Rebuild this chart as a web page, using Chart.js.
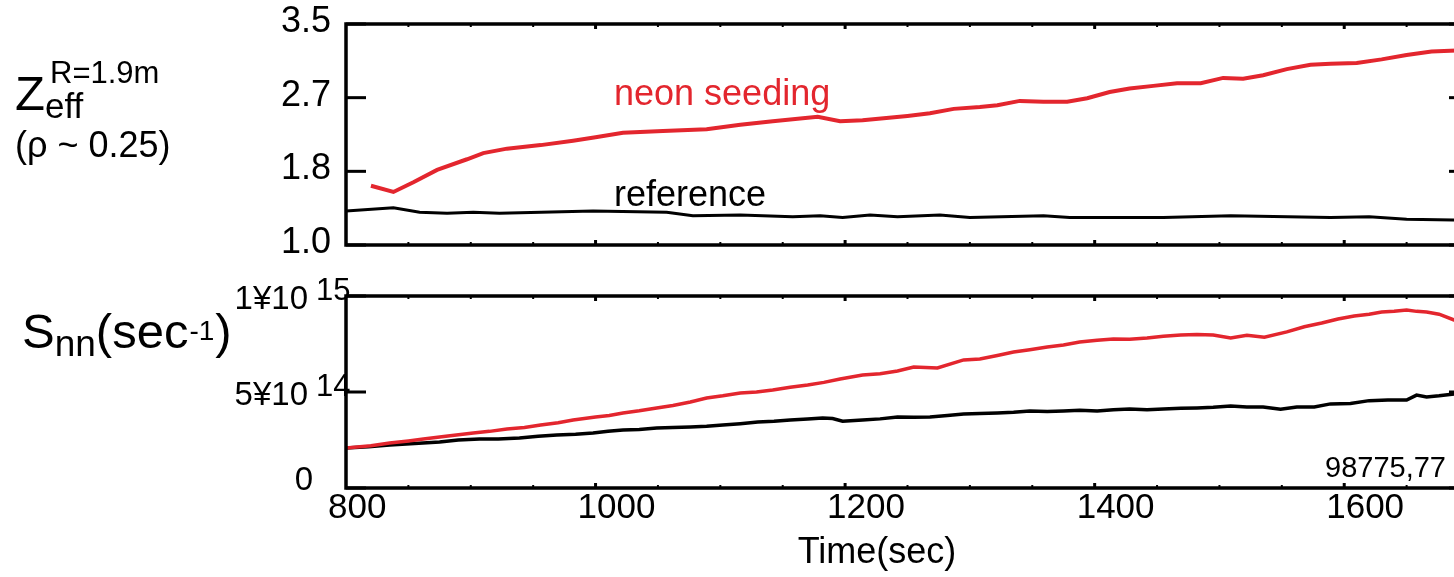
<!DOCTYPE html>
<html>
<head>
<meta charset="utf-8">
<script src="https://cdn.jsdelivr.net/npm/chart.js@4.4.1/dist/chart.umd.min.js"></script>
<style>
html, body { margin: 0; padding: 0; background: #fff; overflow: hidden; width: 1454px; height: 577px; }
#wrap { position: relative; width: 1454px; height: 577px; overflow: hidden; }
canvas { position: absolute; left: 0; }
#zeff { top: 0; }
#snn { top: 270px; }
</style>
</head>
<body>
<div id="wrap">
  <canvas id="zeff" width="1480" height="260"></canvas>
  <canvas id="snn" width="1480" height="307"></canvas>
</div>
<script>
const zeffChart = document.getElementById('zeff');
const snnChart = document.getElementById('snn');

// Zeff (rho ~ 0.25)
const neonZeffTime = [820, 838, 854, 873, 897, 910, 929, 956, 982, 1000, 1022, 1054, 1089, 1116, 1142, 1178, 1196, 1214, 1250, 1268, 1287, 1308, 1322, 1340, 1359, 1378, 1394, 1412, 1428, 1447, 1466, 1485, 1503, 1519, 1535, 1554, 1573, 1589, 1610, 1630, 1650, 1670, 1690, 1700];
const neonZeff = [1.67, 1.60, 1.71, 1.85, 1.97, 2.04, 2.09, 2.13, 2.18, 2.22, 2.27, 2.29, 2.31, 2.36, 2.40, 2.45, 2.40, 2.41, 2.46, 2.49, 2.54, 2.56, 2.58, 2.63, 2.62, 2.62, 2.66, 2.73, 2.77, 2.80, 2.83, 2.83, 2.89, 2.88, 2.92, 2.99, 3.04, 3.05, 3.06, 3.10, 3.15, 3.19, 3.20, 3.20];
const refZeffTime = [800, 838, 859, 881, 902, 923, 998, 1057, 1078, 1116, 1158, 1180, 1198, 1220, 1242, 1276, 1300, 1359, 1380, 1455, 1509, 1589, 1620, 1650, 1700];
const refZeff = [1.385, 1.42, 1.37, 1.36, 1.37, 1.36, 1.385, 1.37, 1.33, 1.34, 1.32, 1.33, 1.31, 1.34, 1.32, 1.34, 1.31, 1.33, 1.31, 1.31, 1.33, 1.31, 1.32, 1.29, 1.28];

// neutron rate, in units of 1e14 /sec
const neonSnnTime = [800, 820, 835, 850, 862, 880, 902, 915, 929, 943, 956, 970, 982, 1000, 1011, 1022, 1035, 1049, 1062, 1076, 1089, 1102, 1116, 1129, 1142, 1156, 1170, 1183, 1196, 1214, 1228, 1242, 1255, 1274, 1295, 1308, 1322, 1335, 1348, 1362, 1375, 1388, 1402, 1415, 1428, 1442, 1455, 1469, 1482, 1495, 1509, 1522, 1536, 1554, 1568, 1582, 1595, 1608, 1620, 1630, 1640, 1650, 1658, 1666, 1676, 1688, 1700];
const neonSnn = [2.08, 2.20, 2.34, 2.45, 2.55, 2.70, 2.86, 2.95, 3.07, 3.15, 3.28, 3.40, 3.54, 3.70, 3.78, 3.91, 4.02, 4.17, 4.30, 4.48, 4.69, 4.80, 4.95, 5.00, 5.10, 5.25, 5.36, 5.50, 5.68, 5.89, 5.95, 6.09, 6.30, 6.25, 6.67, 6.72, 6.90, 7.08, 7.20, 7.34, 7.45, 7.60, 7.70, 7.76, 7.75, 7.81, 7.90, 7.97, 8.00, 7.97, 7.81, 7.95, 7.85, 8.13, 8.40, 8.59, 8.80, 8.96, 9.05, 9.17, 9.20, 9.27, 9.20, 9.17, 9.05, 8.75, 8.60];
const refSnnTime = [800, 818, 835, 855, 875, 890, 907, 922, 939, 954, 969, 984, 998, 1010, 1022, 1035, 1049, 1062, 1076, 1089, 1102, 1116, 1130, 1143, 1156, 1170, 1182, 1190, 1198, 1214, 1228, 1242, 1255, 1268, 1282, 1295, 1308, 1322, 1335, 1348, 1362, 1375, 1388, 1402, 1415, 1428, 1442, 1455, 1469, 1482, 1495, 1509, 1522, 1535, 1549, 1562, 1576, 1589, 1605, 1620, 1635, 1650, 1658, 1666, 1676, 1688, 1700];
const refSnn = [2.08, 2.15, 2.24, 2.32, 2.40, 2.50, 2.55, 2.55, 2.60, 2.70, 2.76, 2.80, 2.86, 2.95, 3.02, 3.05, 3.12, 3.15, 3.18, 3.22, 3.28, 3.35, 3.44, 3.48, 3.54, 3.60, 3.65, 3.62, 3.48, 3.54, 3.60, 3.70, 3.68, 3.70, 3.78, 3.85, 3.88, 3.91, 3.95, 4.01, 3.98, 4.01, 4.05, 4.01, 4.08, 4.11, 4.08, 4.11, 4.15, 4.17, 4.20, 4.27, 4.22, 4.22, 4.10, 4.22, 4.22, 4.38, 4.40, 4.55, 4.58, 4.58, 4.84, 4.74, 4.80, 4.90, 4.92];

// ticks
const timeLabels = [800, 1000, 1200, 1400, 1600];
const zeffTicks = [1.0, 1.8333, 2.6667, 3.5];
const zeffTickLabels = ['1.0', '1.8', '2.7', '3.5'];
const snnTicks = [0, 5, 10];
const snnTickBase = ['0', '5¥10', '1¥10'];
const snnTickExp = ['', '14', '15'];

const RED = '#e3262e';
const FONT = "'Liberation Sans', Arial, sans-serif";

const zip = (xs, ys) => xs.map((x, i) => ({ x, y: ys[i] }));

function text(ctx, str, x, y, size, color, align) {
    ctx.font = size + 'px ' + FONT;
    ctx.fillStyle = color || '#000';
    ctx.textAlign = align || 'left';
    ctx.textBaseline = 'alphabetic';
    ctx.fillText(str, x, y);
    return ctx.measureText(str).width;
}

function seg(ctx, x1, y1, x2, y2) {
    ctx.beginPath();
    ctx.moveTo(x1, y1);
    ctx.lineTo(x2, y2);
    ctx.stroke();
}

const frame = {
    id: 'frame',
    afterDatasetsDraw: (chart, args, opts) => {
        const { ctx, chartArea: a, scales: { x, y } } = chart;
        ctx.save();
        ctx.strokeStyle = '#000';
        ctx.lineWidth = 3.5;
        ctx.strokeRect(a.left, a.top, a.right - a.left, a.bottom - a.top);

        // inward y ticks on both sides
        ctx.lineWidth = 3;
        opts.yTicks.forEach(v => {
            const py = y.getPixelForValue(v);
            seg(ctx, a.left, py, a.left + 20, py);
            seg(ctx, a.right - 20, py, a.right, py);
        });

        // small x ticks top and bottom, every 50 sec
        for (let t = 850; t < 1700; t += 50) {
            const px = x.getPixelForValue(t);
            const major = t % 200 === 0;
            ctx.lineWidth = major ? 3 : 2;
            const len = major ? 5 : 3;
            seg(ctx, px, a.top, px, a.top + len);
            seg(ctx, px, a.bottom - len, px, a.bottom);
        }

        if (opts.drawTimeLabels) {
            timeLabels.forEach(t => {
                text(ctx, String(t), x.getPixelForValue(t) - 18, a.bottom + 30, 35);
            });
        }
        if (opts.draw) opts.draw(ctx, a, x, y);
        ctx.restore();
    }
};

const lineOpts = (extra) => ({
    responsive: false,
    animation: false,
    layout: { padding: extra.padding },
    elements: { point: { radius: 0 }, line: { tension: 0 } },
    plugins: { legend: { display: false }, tooltip: { enabled: false }, frame: extra.frame },
    scales: {
        x: { type: 'linear', min: 800, max: 1700, display: false },
        y: { type: 'linear', min: extra.ymin, max: extra.ymax, display: false }
    }
});

new Chart(zeffChart, {
    type: 'line',
    data: {
        datasets: [
            { data: zip(neonZeffTime, neonZeff), borderColor: RED, borderWidth: 4 },
            { data: zip(refZeffTime, refZeff), borderColor: '#000', borderWidth: 3 }
        ]
    },
    options: lineOpts({
        padding: { left: 346, top: 24, right: 11, bottom: 15 },
        ymin: 1, ymax: 3.5,
        frame: {
            yTicks: zeffTicks,
            drawTimeLabels: false,
            draw: (ctx, a, x, y) => {
                zeffTicks.forEach((v, i) => {
                    text(ctx, zeffTickLabels[i], a.left - 15, y.getPixelForValue(v) + 8, 36, '#000', 'right');
                });
                text(ctx, 'Z', 15, 110, 49);
                text(ctx, 'eff', 45, 118, 35);
                text(ctx, 'R=1.9m', 50, 83, 31);
                text(ctx, '(ρ ~ 0.25)', 15, 157, 36);
                text(ctx, 'neon seeding', 614, 105, 36, RED);
                text(ctx, 'reference', 614, 206, 36);
            }
        }
    }),
    plugins: [frame]
});

new Chart(snnChart, {
    type: 'line',
    data: {
        datasets: [
            { data: zip(neonSnnTime, neonSnn), borderColor: RED, borderWidth: 3.5 },
            { data: zip(refSnnTime, refSnn), borderColor: '#000', borderWidth: 3.5 }
        ]
    },
    options: lineOpts({
        padding: { left: 346, top: 26, right: 11, bottom: 89 },
        ymin: 0, ymax: 10,
        frame: {
            yTicks: snnTicks,
            drawTimeLabels: true,
            draw: (ctx, a, x, y) => {
                snnTicks.forEach((v, i) => {
                    const py = y.getPixelForValue(v);
                    if (snnTickExp[i]) {
                        text(ctx, snnTickBase[i], 308, py + 13, 33, '#000', 'right');
                        text(ctx, snnTickExp[i], 316, py + 4, 31);
                    } else {
                        text(ctx, snnTickBase[i], 313, py + 2, 33, '#000', 'right');
                    }
                });
                let cx = 22;
                cx += text(ctx, 'S', cx, 78, 49);
                cx += text(ctx, 'nn', cx, 86, 37);
                cx += text(ctx, '(sec', cx, 78, 49);
                cx += text(ctx, '-1', cx + 1, 70, 28) + 2;
                text(ctx, ')', cx, 78, 49);
                text(ctx, 'Time(sec)', 877, 293, 36, '#000', 'center');
                text(ctx, '98775,77', 1325, 207, 29);
            }
        }
    }),
    plugins: [frame]
});
</script>
</body>
</html>
